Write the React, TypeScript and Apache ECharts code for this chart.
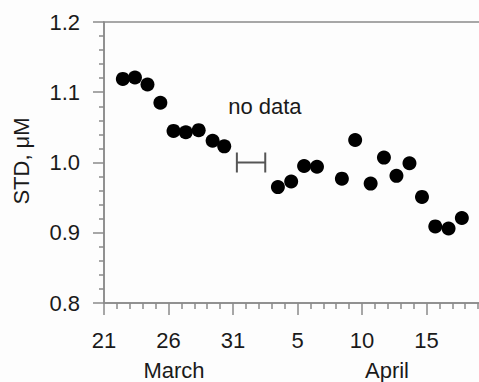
import React, { useEffect, useRef } from "react";
import * as echarts from "echarts";

// Day index on a continuous axis: March d -> d, April d -> 31 + d
const sampleDays = [
  22.46, 23.4, 24.37, 25.37, 26.39, 27.34, 28.34, 29.42, 30.32,
  34.48, 35.51, 36.51, 37.51, 39.44, 40.47, 41.67, 42.7, 43.67, 44.68,
  45.65, 46.68, 47.71, 48.74,
];
const stdValues = [
  1.119, 1.121, 1.111, 1.085, 1.045, 1.043, 1.046, 1.031, 1.023,
  0.965, 0.973, 0.995, 0.994, 0.977, 1.032, 0.97, 1.007, 0.981, 0.999,
  0.951, 0.909, 0.906, 0.921,
];

// Gap in the record, drawn as a bracket with a note above it
const gapStart = 31.3;
const gapEnd = 33.5;
const gapLevel = 1.0;
const gapNote = "no data";
const gapNotePos = [33.47, 1.08];

const xTicks = [21, 26, 31, 36, 41, 46];
const monthLabels = [
  { text: "March", x: 174 },
  { text: "April", x: 387 },
];
const yTickValues = [0.8, 0.9, 1.0, 1.1, 1.2];
const yTitle = "STD, μM";

const FONT = "'Liberation Sans', Arial, sans-serif";
const AXIS_GRAY = "#8a8a8a";

// The plot runs past the right edge of the visible frame
const VIEW_W = 479;
const VIEW_H = 382;
const CHART_W = 494;

export default function App() {
  const ref = useRef<HTMLDivElement>(null);

  useEffect(() => {
    if (!ref.current) return;
    const chart = echarts.init(ref.current, undefined, { renderer: "svg" });

    const points = sampleDays.map((d, i) => [d, stdValues[i]]);

    chart.setOption({
      animation: false,
      backgroundColor: "#fdfdfd",
      grid: {
        left: 104,
        top: 22,
        bottom: 79,
        right: 0,
        show: true,
        borderColor: AXIS_GRAY,
        borderWidth: 1.5,
        backgroundColor: "transparent",
      },
      xAxis: {
        type: "value",
        min: 21,
        max: 51,
        interval: 5,
        axisLine: { show: true, onZero: false, lineStyle: { color: AXIS_GRAY, width: 1.5 } },
        axisTick: { show: true, length: 12, lineStyle: { color: AXIS_GRAY, width: 1.5 } },
        minorTick: { show: true, splitNumber: 5, length: 6, lineStyle: { color: AXIS_GRAY, width: 1.5 } },
        splitLine: { show: false },
        axisLabel: {
          margin: 26,
          fontFamily: FONT,
          fontSize: 22,
          color: "#1a1a1a",
          formatter: (v: number) => {
            if (!xTicks.includes(v)) return "";
            return String(v <= 31 ? v : v - 31);
          },
        },
      },
      yAxis: {
        type: "value",
        min: 0.8,
        max: 1.2,
        interval: 0.1,
        axisLine: { show: true, onZero: false, lineStyle: { color: AXIS_GRAY, width: 1.5 } },
        axisTick: { show: true, length: 11, lineStyle: { color: AXIS_GRAY, width: 1.5 } },
        minorTick: { show: true, splitNumber: 5, length: 5, lineStyle: { color: AXIS_GRAY, width: 1.5 } },
        splitLine: { show: false },
        axisLabel: {
          margin: 24,
          fontFamily: FONT,
          fontSize: 22,
          color: "#1a1a1a",
          formatter: (v: number) => {
            const hit = yTickValues.find((t) => Math.abs(t - v) < 1e-6);
            return hit === undefined ? "" : hit.toFixed(1);
          },
        },
      },
      graphic: [
        {
          type: "text",
          x: 21,
          y: 161,
          rotation: Math.PI / 2,
          style: {
            text: yTitle,
            fontFamily: FONT,
            fontSize: 22,
            fill: "#1a1a1a",
            align: "center",
            verticalAlign: "middle",
          },
        },
        ...monthLabels.map((m) => ({
          type: "text",
          x: m.x,
          y: 370,
          style: {
            text: m.text,
            fontFamily: FONT,
            fontSize: 22,
            fill: "#1a1a1a",
            align: "center",
            verticalAlign: "middle",
          },
        })),
      ],
      series: [
        {
          type: "scatter",
          data: points,
          symbol: "circle",
          symbolSize: 14,
          itemStyle: { color: "#000", opacity: 1 },
          silent: true,
        },
        {
          type: "custom",
          silent: true,
          data: [[gapStart, gapEnd, gapLevel]],
          renderItem: (params: any, api: any) => {
            const a = api.coord([api.value(0), api.value(2)]);
            const b = api.coord([api.value(1), api.value(2)]);
            const t = api.coord(gapNotePos);
            const cap = 10;
            const stroke = { stroke: "#555", lineWidth: 2 };
            return {
              type: "group",
              children: [
                { type: "line", shape: { x1: a[0], y1: a[1], x2: b[0], y2: b[1] }, style: stroke },
                { type: "line", shape: { x1: a[0], y1: a[1] - cap, x2: a[0], y2: a[1] + cap }, style: stroke },
                { type: "line", shape: { x1: b[0], y1: b[1] - cap, x2: b[0], y2: b[1] + cap }, style: stroke },
                {
                  type: "text",
                  x: t[0],
                  y: t[1],
                  style: {
                    text: gapNote,
                    fontFamily: FONT,
                    fontSize: 22,
                    fill: "#1a1a1a",
                    align: "center",
                    verticalAlign: "middle",
                  },
                },
              ],
            };
          },
        },
      ],
    });

    return () => chart.dispose();
  }, []);

  return (
    <div
      style={{
        position: "absolute",
        left: 0,
        top: 0,
        width: VIEW_W,
        height: VIEW_H,
        overflow: "hidden",
        background: "#fdfdfd",
      }}
    >
      <div ref={ref} style={{ width: CHART_W, height: VIEW_H }} />
    </div>
  );
}
